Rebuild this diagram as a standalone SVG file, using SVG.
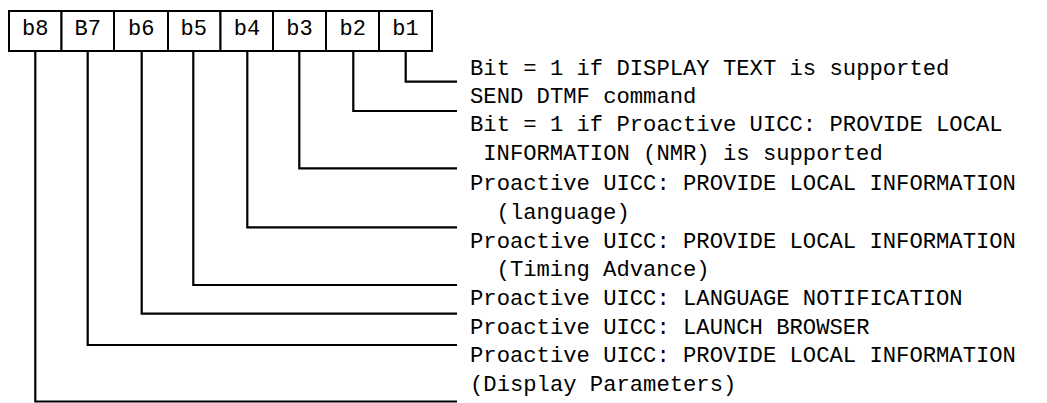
<svg xmlns="http://www.w3.org/2000/svg" width="1047" height="403" viewBox="0 0 1047 403">
<style>
.cell{fill:#fff;stroke:#000;stroke-width:2}
.ct{font-family:"Liberation Mono","Courier New",monospace;font-size:22px;fill:#000;text-anchor:middle}
.lt{font-family:"Liberation Mono","Courier New",monospace;font-size:22.2px;fill:#000}
.conn{fill:none;stroke:#000;stroke-width:2.2}
</style>
<g id="register">
<g id="cell-b8"><rect class="cell" x="9" y="11" width="52.5" height="40"/><text class="ct" x="35.3" y="34.5">b8</text></g>
<g id="cell-b7"><rect class="cell" x="61.5" y="11" width="52.5" height="40"/><text class="ct" x="87.7" y="34.5">B7</text></g>
<g id="cell-b6"><rect class="cell" x="114" y="11" width="54" height="40"/><text class="ct" x="141.3" y="34.5">b6</text></g>
<g id="cell-b5"><rect class="cell" x="168" y="11" width="52.5" height="40"/><text class="ct" x="193.8" y="34.5">b5</text></g>
<g id="cell-b4"><rect class="cell" x="220.5" y="11" width="52.5" height="40"/><text class="ct" x="247" y="34.5">b4</text></g>
<g id="cell-b3"><rect class="cell" x="273" y="11" width="53" height="40"/><text class="ct" x="299.5" y="34.5">b3</text></g>
<g id="cell-b2"><rect class="cell" x="326" y="11" width="53" height="40"/><text class="ct" x="352.8" y="34.5">b2</text></g>
<g id="cell-b1"><rect class="cell" x="379" y="11" width="53" height="40"/><text class="ct" x="405.5" y="34.5">b1</text></g>
</g>
<g id="connectors">
<path class="conn" d="M405.7 51 V81.7 H457"/>
<path class="conn" d="M353.3 51 V111 H457"/>
<path class="conn" d="M299.3 51 V168.3 H457"/>
<path class="conn" d="M247.3 51 V227.3 H457"/>
<path class="conn" d="M193.3 51 V285 H457"/>
<path class="conn" d="M141.7 51 V313.7 H457"/>
<path class="conn" d="M87.7 51 V345 H457"/>
<path class="conn" d="M35.3 51 V401.5 H457"/>
</g>
<g id="labels">
<text class="lt" x="470" y="74.5">Bit = 1 if DISPLAY TEXT is supported</text>
<text class="lt" x="470" y="102.8">SEND DTMF command</text>
<text class="lt" x="470" y="131.2">Bit = 1 if Proactive UICC: PROVIDE LOCAL</text>
<text class="lt" x="483.3" y="159.6">INFORMATION (NMR) is supported</text>
<text class="lt" x="470" y="190">Proactive UICC: PROVIDE LOCAL INFORMATION</text>
<text class="lt" x="496.6" y="218.5">(language)</text>
<text class="lt" x="470" y="247.5">Proactive UICC: PROVIDE LOCAL INFORMATION</text>
<text class="lt" x="496.6" y="276">(Timing Advance)</text>
<text class="lt" x="470" y="305">Proactive UICC: LANGUAGE NOTIFICATION</text>
<text class="lt" x="470" y="333.7">Proactive UICC: LAUNCH BROWSER</text>
<text class="lt" x="470" y="362.3">Proactive UICC: PROVIDE LOCAL INFORMATION</text>
<text class="lt" x="470" y="390.5">(Display Parameters)</text>
</g>
</svg>
